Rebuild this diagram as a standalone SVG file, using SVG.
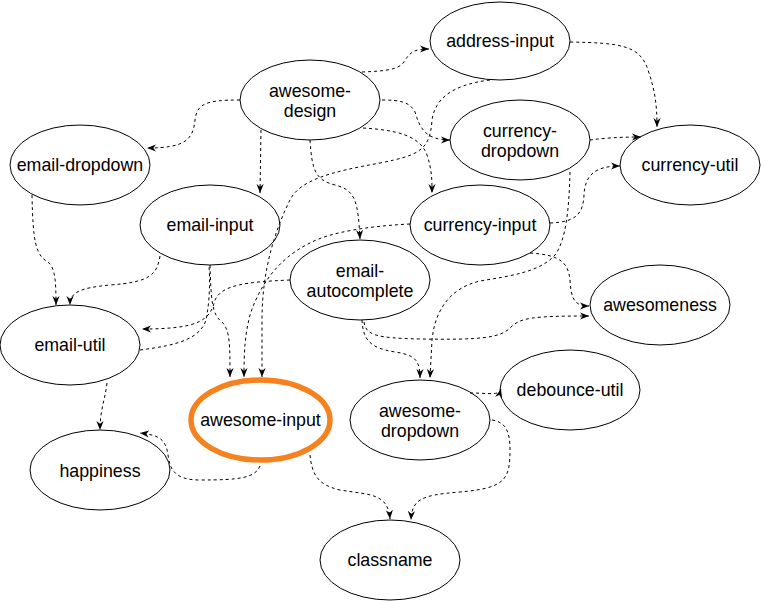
<svg xmlns="http://www.w3.org/2000/svg" width="761" height="601" viewBox="0 0 761 601">
<defs>
<style>
.n ellipse{fill:#fff;stroke:#000;stroke-width:1}
.n text{font-family:"Liberation Sans",Arial,Helvetica,sans-serif;font-size:17.8px;fill:#000;text-anchor:middle}
#awesome-input ellipse{stroke:#f5821f;stroke-width:5.5}
.e path{fill:none;stroke:#000;stroke-width:1;stroke-dasharray:3 3}
.e path.a{marker-end:url(#arr)}
</style>
<marker id="arr" viewBox="0 0 10 8" refX="10" refY="4" markerWidth="9" markerHeight="7.5" markerUnits="userSpaceOnUse" orient="auto">
<path d="M0,0 L10,4 L0,8 L3,4 Z" fill="#000"/>
</marker>
</defs>
<rect width="761" height="601" fill="#fff"/>

<g id="address-input" class="n"><ellipse cx="500" cy="41" rx="70" ry="39"/><text x="500" y="47">address-input</text></g>
<g id="awesome-design" class="n"><ellipse cx="310" cy="100" rx="70" ry="40"/><text x="310" y="97">awesome-</text><text x="310" y="117">design</text></g>
<g id="currency-dropdown" class="n"><ellipse cx="520" cy="140" rx="70" ry="40"/><text x="520" y="137">currency-</text><text x="520" y="157">dropdown</text></g>
<g id="currency-util" class="n"><ellipse cx="690" cy="165" rx="70" ry="40"/><text x="690" y="171">currency-util</text></g>
<g id="email-dropdown" class="n"><ellipse cx="80" cy="165" rx="70" ry="40"/><text x="80" y="171">email-dropdown</text></g>
<g id="email-input" class="n"><ellipse cx="210" cy="225" rx="70" ry="40"/><text x="210" y="231">email-input</text></g>
<g id="currency-input" class="n"><ellipse cx="480" cy="225" rx="70" ry="40"/><text x="480" y="231">currency-input</text></g>
<g id="email-autocomplete" class="n"><ellipse cx="360" cy="280" rx="70" ry="40"/><text x="360" y="277">email-</text><text x="360" y="297">autocomplete</text></g>
<g id="awesomeness" class="n"><ellipse cx="660" cy="305" rx="70" ry="40"/><text x="660" y="311">awesomeness</text></g>
<g id="email-util" class="n"><ellipse cx="70" cy="345" rx="70" ry="40"/><text x="70" y="351">email-util</text></g>
<g id="debounce-util" class="n"><ellipse cx="570" cy="390" rx="70" ry="40"/><text x="570" y="396">debounce-util</text></g>
<g id="awesome-dropdown" class="n"><ellipse cx="420" cy="420" rx="70" ry="40"/><text x="420" y="417">awesome-</text><text x="420" y="437">dropdown</text></g>
<g id="awesome-input" class="n"><ellipse cx="260.5" cy="420" rx="69.5" ry="40"/><text x="260.5" y="426">awesome-input</text></g>
<g id="happiness" class="n"><ellipse cx="100" cy="470" rx="70" ry="40"/><text x="100" y="477">happiness</text></g>
<g id="classname" class="n"><ellipse cx="390" cy="560" rx="70" ry="40"/><text x="390" y="566">classname</text></g>

<g id="connectors" class="e">
<path class="a" d="M362,72 C385,71 398,70 404,62 C410,52 414,49 429,49"/>
<path class="a" d="M382,100 C400,100 410,102 415,112 C420,128 425,140 450,140"/>
<path class="a" d="M363,128 C395,130 420,135 427,155 C432,170 432,180 432,193"/>
<path class="a" d="M261,130 L260,193"/>
<path class="a" d="M240,100 C205,100 197,104 195,120 C193,140 185,148 147,148"/>
<path class="a" d="M310,140 C312,170 315,180 335,185 C355,190 358,200 360,239"/>
<path class="a" d="M490,80 C450,85 435,100 432,120 C430,150 420,155 380,163 C330,172 300,180 290,200 C275,230 262,270 262,320 L262,377"/>
<path class="a" d="M410,224 C370,226 330,232 310,243 C275,260 258,290 250,315 C245,335 244,350 244,377"/>
<path class="a" d="M160,256 C157,275 150,282 110,285 C80,288 70,292 70,305"/>
<path class="a" d="M32,195 C33,240 35,255 48,262 C55,268 56,280 56,305"/>
<path class="a" d="M210,265 C211,300 212,315 222,322 C230,330 230,345 230,377"/>
<path class="a" d="M290,280 C245,282 222,285 215,300 C210,320 200,329 142,329"/>
<path d="M140,350 C180,345 200,338 206,320 C210,300 210,280 209,265"/>
<path class="a" d="M362,320 C363,340 370,348 395,352 C415,355 420,360 420,378"/>
<path class="a" d="M364,322 C366,335 375,338 420,339 C480,340 500,338 510,328 C520,318 530,316 589,316"/>
<path class="a" d="M530,253 C560,255 568,262 570,280 C571,300 575,306 589,306"/>
<path class="a" d="M570,172 C569,210 566,240 555,255 C540,272 510,276 480,281 C450,288 435,310 432,340 L430,378"/>
<path class="a" d="M550,223 C575,222 583,215 584,195 C585,175 595,166 620,166"/>
<path class="a" d="M590,140 C605,138 620,137 641,137"/>
<path class="a" d="M570,42 C620,43 640,45 648,70 C655,90 657,105 657,127"/>
<path class="a" d="M470,393 C490,393 499,396 501,389"/>
<path class="a" d="M492,420 C505,422 510,430 510,450 C510,480 505,488 460,492 C420,495 412,500 411,520"/>
<path class="a" d="M310,455 C312,475 318,485 340,490 C370,495 388,493 390,519"/>
<path class="a" d="M260,466 C255,478 240,480 200,480 C175,480 170,470 168,455 C166,440 160,435 140,433"/>
<path class="a" d="M107,383 C105,400 100,410 100,430"/>
</g>
</svg>
